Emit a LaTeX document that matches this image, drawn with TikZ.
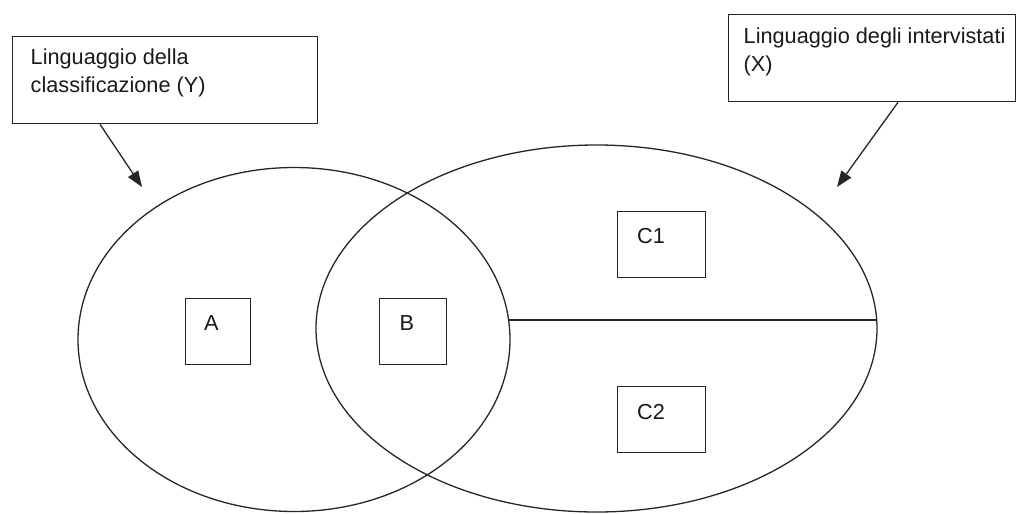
\documentclass[tikz,border=0pt]{standalone}
\usepackage{fontspec}
\setmainfont{Liberation Sans}
\usetikzlibrary{shapes.geometric,arrows.meta}

\tikzset{
  ink/.style={draw=black!85, line width=1.3pt},
  panel/.style={ink, rectangle, inner sep=0pt, anchor=north west},
  setring/.style={ink, ellipse, inner sep=0pt},
  caption/.style={inner sep=0pt, anchor=north west, align=left,
    font=\fontsize{21.7}{28}\selectfont, text=black!90},
  pointer/.style={draw=black!85, line width=1.3pt,
    -{Triangle[length=16pt,width=12pt]}}
}

\begin{document}
\begin{tikzpicture}[x=1pt,y=-1pt]
  \useasboundingbox (0,0) rectangle (1018,514);

  % the two languages as overlapping sets
  \node[setring, minimum width=432pt, minimum height=344pt] (setY) at (294,339.5) {};
  \node[setring, minimum width=561pt, minimum height=367pt] (setX) at (596.5,328.5) {};

  % split of the part of X outside Y
  \coordinate (splitW) at (508.6,320);
  \coordinate (splitE) at (876.7,320);
  \draw[ink] (splitW) -- (splitE);

  % callout boxes
  \node[panel, minimum width=305pt, minimum height=87pt] (boxY) at (12,36) {};
  \node[caption] (txtY) at (30.5,48.5) {Linguaggio della\\classificazione (Y)};

  \node[panel, minimum width=287pt, minimum height=87pt] (boxX) at (728,14) {};
  \node[caption] (txtX) at (743.5,27.5) {Linguaggio degli intervistati\\(X)};

  % arrows from the callouts to the sets
  \coordinate (tipY) at (142,187);
  \coordinate (tipX) at (837,187);
  \draw[pointer] ([xshift=88pt]boxY.south west) -- (tipY);
  \draw[pointer] ([xshift=170pt]boxX.south west) -- (tipX);

  % region markers
  \node[panel, minimum width=65pt, minimum height=66pt] (boxA) at (185,298) {};
  \node[caption] (txtA) at (204,315) {A};

  \node[panel, minimum width=67pt, minimum height=66pt] (boxB) at (379,298) {};
  \node[caption] (txtB) at (399.5,315) {B};

  \node[panel, minimum width=88pt, minimum height=66pt] (boxC1) at (617,211) {};
  \node[caption] (txtC1) at (637,228) {C1};

  \node[panel, minimum width=88pt, minimum height=66pt] (boxC2) at (617,386) {};
  \node[caption] (txtC2) at (637,404) {C2};
\end{tikzpicture}
\end{document}
